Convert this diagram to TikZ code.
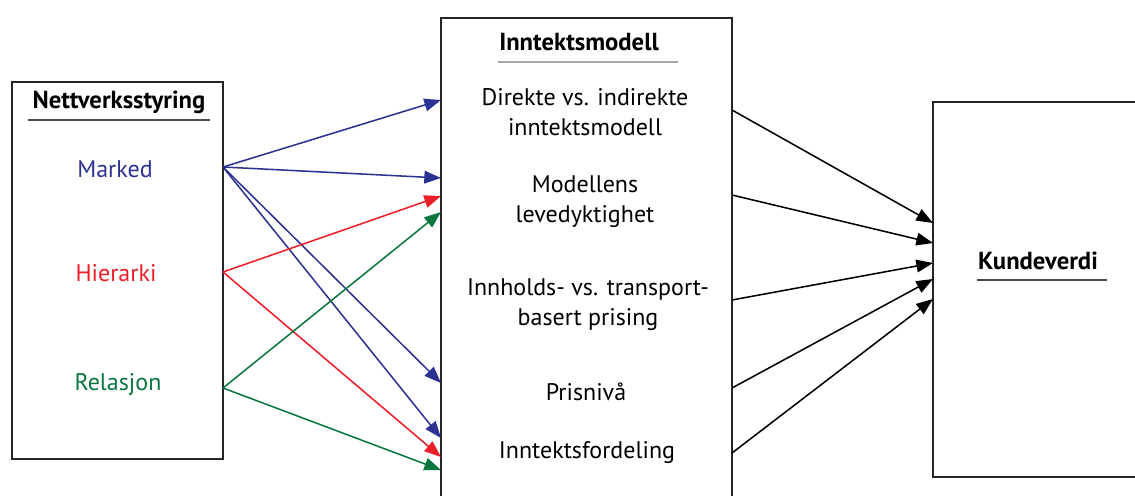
\documentclass[tikz,border=0pt]{standalone}
\usepackage{fontspec}
\setmainfont{PT Sans}
\usetikzlibrary{arrows.meta}
\definecolor{mblue}{RGB}{44,50,145}
\definecolor{mred}{RGB}{236,30,40}
\definecolor{mgreen}{RGB}{10,118,62}
\begin{document}
\begin{tikzpicture}[x=0.75pt,y=-0.75pt,
  box/.style={draw=black!85,line width=1.5pt,rectangle,inner sep=0pt},
  lbl/.style={font=\fontsize{18}{22.5}\selectfont,align=center,inner sep=0pt},
  ttl/.style={font=\fontsize{18.5}{22.5}\selectfont\bfseries,inner sep=0pt},
  uline/.style={line width=0.8pt,draw=black!70},
  conn/.style={line width=1.15pt,-{Triangle[length=12.5pt,width=9.5pt]}},
  ]
\useasboundingbox (0,0) rectangle (1135,496);
% boxes
\node[box,minimum width=158.25pt,minimum height=282.75pt] (L) at (117.5,270.5) {};
\node[box,minimum width=218.25pt,minimum height=369pt] (M) at (586.5,264) {};
\node[box,minimum width=162.75pt,minimum height=281.25pt] (R) at (1041.5,289.5) {};
% left texts
\node[ttl] (lt) at (119,102) {Nettverksstyring};
\draw[uline] (28,120) -- (210,120);
\node[lbl,text=mblue] (marked) at (115,169) {Marked};
\node[lbl,text=mred] (hier) at (116,273) {Hierarki};
\node[lbl,text=mgreen] (rel) at (118,385) {Relasjon};
% middle texts
\node[ttl] (mt) at (579,42) {Inntektsmodell};
\draw[line width=1.5pt,draw=black!35] (498,62) -- (678,62);
\node[lbl] (m1) at (585,112) {Direkte vs. indirekte\\inntektsmodell};
\node[lbl] (m2) at (585,202) {Modellens\\levedyktighet};
\node[lbl] (m3) at (588,305) {Innholds- vs. transport-\\basert prising};
\node[lbl] (m4) at (586,392) {Prisnivå};
\node[lbl] (m5) at (587,453) {Inntektsfordeling};
% right text
\node[ttl] (rt) at (1038,261) {Kundeverdi};
\draw[uline] (977,280) -- (1107,280);
% connector end points
\coordinate (oM) at (223,167);
\coordinate (oH) at (223,272);
\coordinate (oR) at (223,388);
\coordinate (b1) at (441,100);
\coordinate (b2) at (441,178);
\coordinate (b3) at (441,383);
\coordinate (b4) at (441,438);
\coordinate (r1) at (441,196);
\coordinate (r2) at (441,457);
\coordinate (g1) at (441,212);
\coordinate (g2) at (441,470);
\coordinate (s1) at (732,110);
\coordinate (s2) at (732,195);
\coordinate (s3) at (732,300);
\coordinate (s4) at (732,388);
\coordinate (s5) at (732,453);
\coordinate (e1) at (933,223);
\coordinate (e2) at (933,243);
\coordinate (e3) at (933,263);
\coordinate (e4) at (933,279);
\coordinate (e5) at (933,299);
% connectors
\draw[conn,mblue] (oM) -- (b1);
\draw[conn,mblue] (oM) -- (b2);
\draw[conn,mblue] (oM) -- (b3);
\draw[conn,mblue] (oM) -- (b4);
\draw[conn,mred] (oH) -- (r1);
\draw[conn,mred] (oH) -- (r2);
\draw[conn,mgreen] (oR) -- (g1);
\draw[conn,mgreen] (oR) -- (g2);
\draw[conn,black] (s1) -- (e1);
\draw[conn,black] (s2) -- (e2);
\draw[conn,black] (s3) -- (e3);
\draw[conn,black] (s4) -- (e4);
\draw[conn,black] (s5) -- (e5);
\end{tikzpicture}
\end{document}
